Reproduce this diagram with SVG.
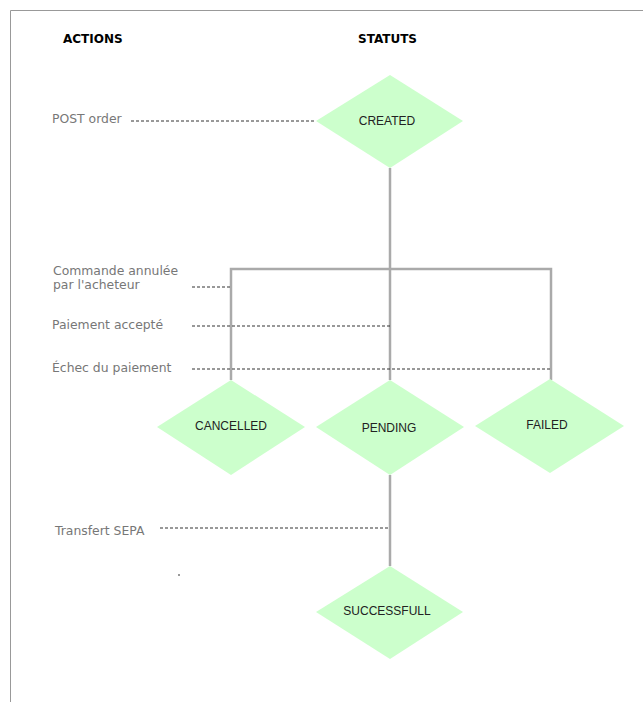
<svg xmlns="http://www.w3.org/2000/svg" width="643" height="702" viewBox="0 0 643 702">
<style>
.hdr{font-family:"DejaVu Sans",Verdana,sans-serif;font-weight:bold;font-size:12px;fill:#000}
.act{font-family:"DejaVu Sans",Verdana,sans-serif;font-size:12.4px;fill:#777}
.lbl{font-family:"Liberation Sans",Arial,sans-serif;font-size:12px;fill:#222;text-anchor:middle}
.dia{fill:#ccffcc;stroke:none}
.solid{stroke:#aaa;stroke-width:2.5;fill:none}
.dash{stroke:#333;stroke-width:1;stroke-dasharray:3,2;fill:none}
</style>
<rect width="643" height="702" fill="#fff"/>
<path d="M10.5 702 V10.5 H643" fill="none" stroke="#999" stroke-width="1"/>
<text class="hdr" x="63" y="43">ACTIONS</text>
<text class="hdr" x="358" y="43">STATUTS</text>
<g id="actions">
<text class="act" x="52" y="123">POST order</text>
<text class="act" x="53" y="275">Commande annulée</text>
<text class="act" x="53" y="289">par l'acheteur</text>
<text class="act" x="52" y="329">Paiement accepté</text>
<text class="act" x="52" y="372">Échec du paiement</text>
<text class="act" x="55" y="535">Transfert SEPA</text>
<rect x="178" y="574" width="2" height="2" fill="#999"/>
</g>
<g id="connectors">
<path class="solid" d="M390 168 V269 M231 380 V269 H551 V380 M390 269 V380 M390 475 V566"/>
<path class="dash" d="M131 121 H316 M192 287 H231 M192 326 H390 M192 369 H551 M160 528 H390"/>
</g>
<g id="created"><polygon class="dia" points="390,75 463,121 390,168 316,121"/><text class="lbl" x="387" y="125">CREATED</text></g>
<g id="cancelled"><polygon class="dia" points="231,380 305,427 231,475 157,427"/><text class="lbl" x="231" y="430">CANCELLED</text></g>
<g id="pending"><polygon class="dia" points="390,380 464,427 390,475 316,427"/><text class="lbl" x="389" y="432">PENDING</text></g>
<g id="failed"><polygon class="dia" points="550,379 624,426 550,473 475,426"/><text class="lbl" x="547" y="429">FAILED</text></g>
<g id="successfull"><polygon class="dia" points="390,566 463,612 390,659 316,612"/><text class="lbl" x="387" y="615">SUCCESSFULL</text></g>
</svg>
